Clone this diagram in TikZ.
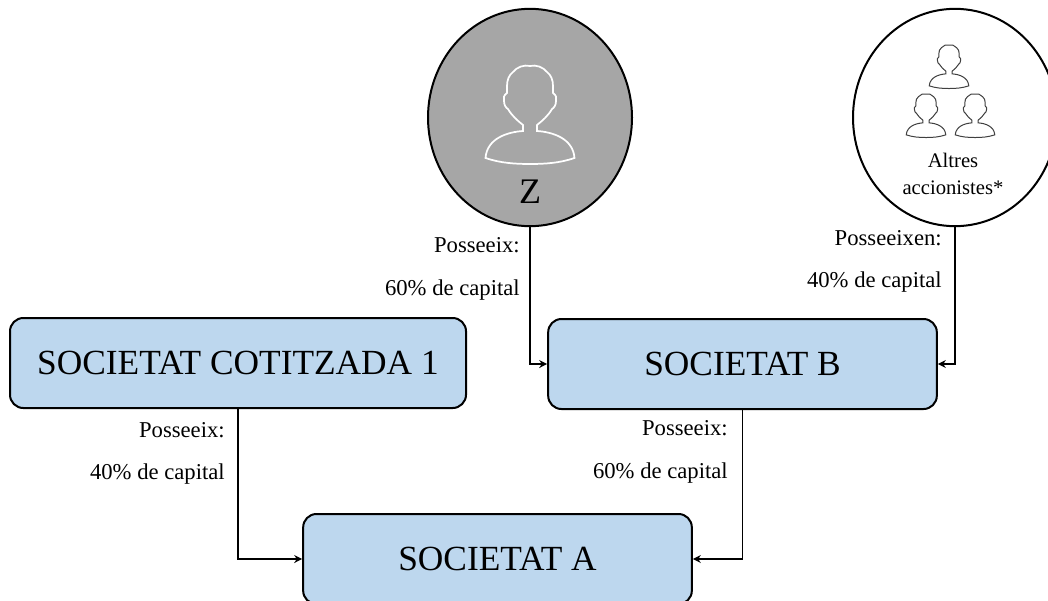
\documentclass[tikz,border=0pt]{standalone}
\usepackage{fontspec}
\setmainfont{Liberation Serif}
\usetikzlibrary{shapes.geometric,arrows.meta}
\definecolor{boxblue}{HTML}{BDD7EE}
\definecolor{zgrey}{HTML}{A6A6A6}
\definecolor{icongrey}{HTML}{404040}
\newcommand{\personpath}{
  (0,0) .. controls (6,-1.5) and (13,1) .. (17,6)
  .. controls (21,9) and (23,14) .. (23,20)
  -- (23,27) .. controls (26,29) and (27,32) .. (26,35)
  .. controls (26,39) and (24,42) .. (22,43)
  .. controls (18,50) and (12,55) .. (7,59)
  -- (7,65) .. controls (22,66) and (43,72) .. (44.5,92)
  .. controls (30,97) and (15,98) .. (0,98)
  .. controls (-15,98) and (-30,97) .. (-44.5,92)
  .. controls (-43,72) and (-22,66) .. (-7,65)
  -- (-7,59) .. controls (-12,55) and (-18,50) .. (-22,43)
  .. controls (-24,42) and (-26,39) .. (-26,35)
  .. controls (-27,32) and (-26,29) .. (-23,27)
  -- (-23,20) .. controls (-23,14) and (-21,9) .. (-17,6)
  .. controls (-13,1) and (-6,-1.5) .. (0,0) -- cycle
}
\tikzset{
  company/.style={draw=black,line width=1.5pt,fill=boxblue,rounded corners=10pt,
    minimum height=67.5pt,inner sep=0pt,font=\fontsize{26.5}{30}\selectfont},
  holder/.style={draw=black,ellipse,inner sep=0pt,line width=1.5pt},
  link/.style={draw=black,line width=1.3pt,-{Stealth[length=6pt,width=6pt]}},
  share/.style={anchor=east,inner sep=0pt,font=\fontsize{17}{20}\selectfont},
  bigicon/.style={draw=white,line width=1.3pt},
  smallicon/.style={draw=icongrey,line width=0.75pt}
}
\begin{document}
\begin{tikzpicture}[x=0.75pt,y=-0.75pt]
\clip (0,0) rectangle (1048,600);
\node[holder,fill=zgrey,minimum width=153pt,minimum height=163pt] (z) at (530,117.5) {};
\node[holder,fill=white,minimum width=153pt,minimum height=163pt] (others) at (955,117.5) {};
\begin{scope}[shift={(530,66)}]
  \draw[bigicon] \personpath;
\end{scope}
\begin{scope}[shift={(949,45)},scale=0.444]
  \draw[smallicon] \personpath;
\end{scope}
\begin{scope}[shift={(926,94)},scale=0.444]
  \draw[smallicon] \personpath;
\end{scope}
\begin{scope}[shift={(975,94)},scale=0.444]
  \draw[smallicon] \personpath;
\end{scope}
\node[inner sep=0pt,font=\fontsize{27}{30}\selectfont] (zlabel) at (530,192) {Z};
\node[inner sep=0pt,font=\fontsize{15.5}{18}\selectfont] (others1) at (953,160) {Altres};
\node[inner sep=0pt,font=\fontsize{15.5}{18}\selectfont] (others2) at (953,188) {accionistes*};
\node[company,minimum width=342pt] (c1) at (238,363) {SOCIETAT COTITZADA 1};
\node[company,minimum width=291.5pt] (b) at (742.5,364) {SOCIETAT B};
\node[company,minimum width=291.5pt] (a) at (497.5,559) {SOCIETAT A};
\draw[link] (z.south) |- (b.west);
\draw[link] (others.south) |- (b.east);
\draw[link] (c1.south) |- (a.west);
\draw[link] (b.south) |- (a.east);
\node[share] (l1) at (520,245) {Posseeix:};
\node[share] (l2) at (520,290) {60\% de capital};
\node[share] (l3) at (942,238) {Posseeixen:};
\node[share] (l4) at (942,282) {40\% de capital};
\node[share] (l5) at (225,430) {Posseeix:};
\node[share] (l6) at (225,474) {40\% de capital};
\node[share] (l7) at (728,428) {Posseeix:};
\node[share] (l8) at (728,473) {60\% de capital};
\end{tikzpicture}
\end{document}
